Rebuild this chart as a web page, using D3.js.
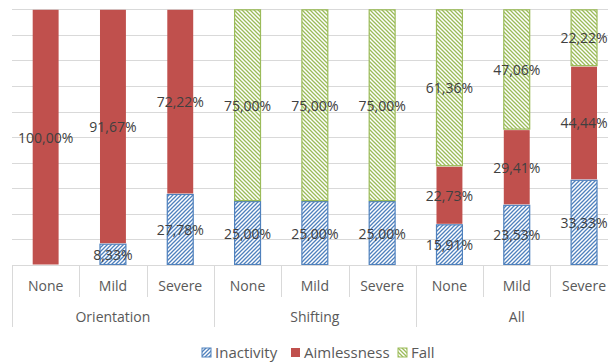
<!DOCTYPE html>
<html>
<head>
<meta charset="utf-8">
<script src="https://cdn.jsdelivr.net/npm/d3@7"></script>
<style>
  html, body { margin: 0; padding: 0; background: #ffffff; }
  svg { display: block; font-family: "Open Sans", "Liberation Sans", sans-serif; }
</style>
</head>
<body>
<svg id="chart" width="608" height="363"></svg>
<script>
// Share of each behaviour (%) per severity level, grouped by domain
const groups = ["Orientation", "Shifting", "All"];
const levels = ["None", "Mild", "Severe"];
const inactivity  = [0, 8.33, 27.78, 25, 25, 25, 15.91, 23.53, 33.33];
const aimlessness = [100, 91.67, 72.22, 0, 0, 0, 22.73, 29.41, 44.44];
const fall        = [0, 0, 0, 75, 75, 75, 61.36, 47.06, 22.22];
const seriesNames = ["Inactivity", "Aimlessness", "Fall"];
const yTicks = [0, 10, 20, 30, 40, 50, 60, 70, 80, 90, 100];

const rows = [];
groups.forEach((g, gi) => levels.forEach((l, li) => {
  const i = gi * levels.length + li;
  rows.push({ key: g + "|" + l, group: g, level: l,
    Inactivity: inactivity[i], Aimlessness: aimlessness[i], Fall: fall[i] });
}));

const svg = d3.select("#chart");
const plotLeft = 12, plotRight = 617.7, plotTop = 9.3, plotBottom = 265;

const x = d3.scaleBand()
  .domain(rows.map(d => d.key))
  .range([plotLeft, plotRight])
  .paddingInner(0.6)
  .paddingOuter(0.3);
const step = x.step();
const y = d3.scaleLinear().domain([0, 100]).range([plotBottom, plotTop]);

// Hatch patterns
const defs = svg.append("defs");
function hatch(id, color, dir) {
  const p = defs.append("pattern")
    .attr("id", id).attr("patternUnits", "userSpaceOnUse")
    .attr("width", 4).attr("height", 4);
  p.append("rect").attr("width", 4).attr("height", 4).attr("fill", "#ffffff");
  const d = dir === "up"
    ? "M-1,1 L1,-1 M0,4 L4,0 M3,5 L5,3"
    : "M-1,3 L1,5 M0,0 L4,4 M3,-1 L5,1";
  p.append("path").attr("d", d).attr("stroke", color).attr("stroke-width", 1.3);
}
hatch("hatch-blue", "#4F81BD", "up");
hatch("hatch-green", "#9BBB59", "down");

const fills = { Inactivity: "url(#hatch-blue)", Aimlessness: "#C0504D", Fall: "url(#hatch-green)" };
const strokes = { Inactivity: "#4F81BD", Aimlessness: "none", Fall: "#9BBB59" };
const legendFills = { Inactivity: "#4F81BD", Aimlessness: "#C0504D", Fall: "#9BBB59" };

// Gridlines
svg.append("g").selectAll("line")
  .data(yTicks.slice(1))
  .join("line")
  .attr("x1", plotLeft).attr("x2", plotRight)
  .attr("y1", d => Math.round(y(d)) + 0.5).attr("y2", d => Math.round(y(d)) + 0.5)
  .attr("stroke", "#d9d9d9").attr("stroke-width", 1);

// Stacked bars
const stack = d3.stack().keys(seriesNames)(rows);
const layer = svg.append("g").selectAll("g")
  .data(stack)
  .join("g");
layer.selectAll("rect")
  .data(s => s.map(d => ({ key: s.key, d })))
  .join("rect")
  .filter(o => o.d[1] - o.d[0] > 0)
  .attr("x", o => x(o.d.data.key) + 0.5)
  .attr("width", x.bandwidth() - 1)
  .attr("y", o => y(o.d[1]) + 0.5)
  .attr("height", o => y(o.d[0]) - y(o.d[1]) - 1)
  .attr("fill", o => fills[o.key])
  .attr("stroke", o => strokes[o.key])
  .attr("stroke-width", 1.2);

// Category axis line and separators
const axis = svg.append("g").attr("stroke", "#d9d9d9").attr("stroke-width", 1);
axis.append("line")
  .attr("x1", plotLeft).attr("x2", plotRight)
  .attr("y1", plotBottom + 0.5).attr("y2", plotBottom + 0.5);
d3.range(rows.length + 1).forEach(i => {
  const xx = Math.round(plotLeft + i * step) + 0.5;
  const major = i % levels.length === 0;
  axis.append("line")
    .attr("x1", xx).attr("x2", xx)
    .attr("y1", plotBottom).attr("y2", major ? 327 : 297);
});

// Level and group labels
svg.append("g").selectAll("text")
  .data(rows)
  .join("text")
  .attr("x", d => x(d.key) + x.bandwidth() / 2)
  .attr("y", 291)
  .attr("text-anchor", "middle")
  .attr("font-size", 14)
  .attr("fill", "#595959")
  .text(d => d.level);
svg.append("g").selectAll("text")
  .data(groups)
  .join("text")
  .attr("x", (g, gi) => plotLeft + (gi + 0.5) * levels.length * step)
  .attr("y", 322)
  .attr("text-anchor", "middle")
  .attr("font-size", 14)
  .attr("fill", "#595959")
  .text(g => g);

// Value labels centred in each segment
const fmt = v => v.toFixed(2).replace(".", ",") + "%";
layer.selectAll("text")
  .data(s => s.map(d => ({ key: s.key, d })))
  .join("text")
  .filter(o => o.d[1] - o.d[0] > 0)
  .attr("x", o => x(o.d.data.key) + x.bandwidth() / 2)
  .attr("y", o => (y(o.d[0]) + y(o.d[1])) / 2 + 5.5)
  .attr("text-anchor", "middle")
  .attr("font-size", 14)
  .attr("fill", "#404040")
  .text(o => fmt(o.d.data[o.key]));

// Legend
const legendPos = { Inactivity: 202, Aimlessness: 291, Fall: 398 };
const leg = svg.append("g").selectAll("g")
  .data(seriesNames)
  .join("g")
  .attr("transform", n => `translate(${legendPos[n]},348)`);
leg.append("rect")
  .attr("width", 9).attr("height", 9)
  .attr("fill", n => n === "Aimlessness" ? legendFills[n] : fills[n])
  .attr("stroke", n => n === "Aimlessness" ? "none" : legendFills[n])
  .attr("stroke-width", 1);
leg.append("text")
  .attr("x", 13).attr("y", 9.5)
  .attr("font-size", 15)
  .attr("fill", "#595959")
  .text(n => n);
</script>
</body>
</html>
